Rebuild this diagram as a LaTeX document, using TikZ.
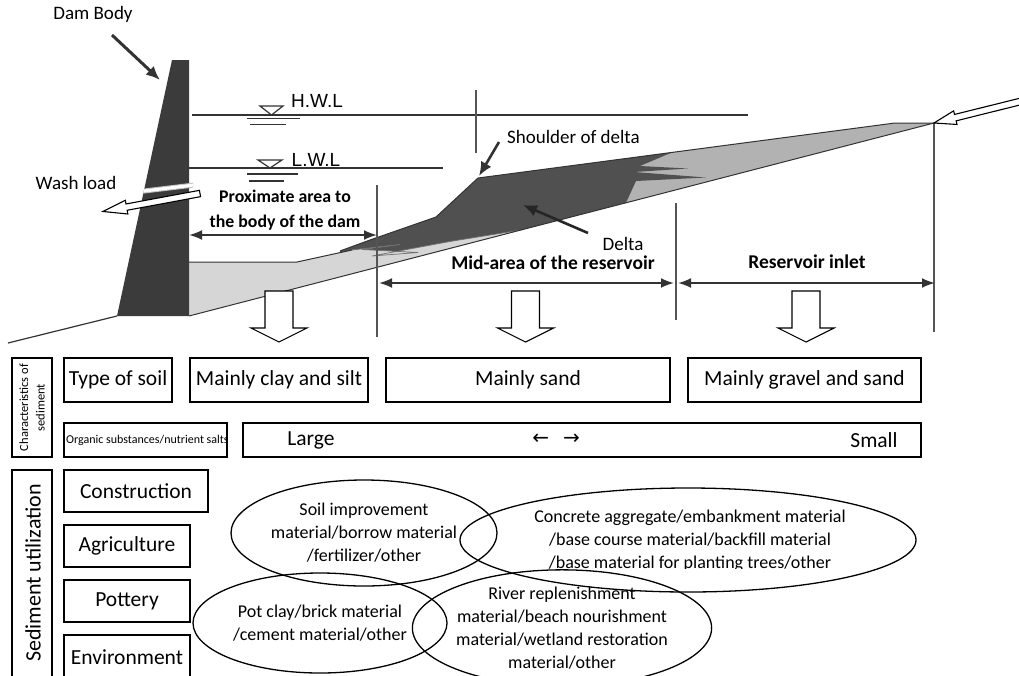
\documentclass[tikz,border=0pt]{standalone}
\usepackage{fontspec}
\setmainfont{Carlito}
\newfontfamily\levelfont{Liberation Sans}
\newfontfamily\arrowfont{DejaVu Sans}
\usetikzlibrary{arrows.meta,shapes.geometric}

\definecolor{damgray}{HTML}{3B3B3B}
\definecolor{deltagray}{HTML}{505050}
\definecolor{topsetgray}{HTML}{B2B2B2}
\definecolor{siltgray}{HTML}{D6D6D6}
\definecolor{inkgray}{HTML}{333333}
\definecolor{rulegray}{HTML}{555555}

% hollow block arrow: tail point, angle, length, shaft half-width, head half-width, head length
\newcommand{\openarrow}[6]{%
  \begin{scope}[shift={(#1)},rotate=#2]
    \draw[openarrowline] (0,-#4) -- ({#3-#6},-#4) -- ({#3-#6},-#5) -- (#3,0)
      -- ({#3-#6},#5) -- ({#3-#6},#4) -- (0,#4) -- cycle;
  \end{scope}}

\begin{document}
\begin{tikzpicture}[x=1pt,y=-1pt,
  smalltext/.style={inner sep=0pt, font=\fontsize{19}{23}\selectfont},
  boldtext/.style={inner sep=0pt, align=center, font=\bfseries\fontsize{19.5}{25}\selectfont},
  leveltext/.style={inner sep=0pt, font=\levelfont\fontsize{19}{22}\selectfont},
  cell/.style={draw, line width=2pt, inner sep=0pt, font=\fontsize{21.5}{26}\selectfont},
  celltext/.style={inner sep=0pt, font=\fontsize{21.5}{26}\selectfont},
  usage/.style={draw, ellipse, line width=1.3pt, inner sep=0pt, align=center, font=\fontsize{18}{23}\selectfont},
  usagetext/.style={inner sep=0pt, align=center, font=\fontsize{18}{23}\selectfont},
  dimline/.style={draw=inkgray, line width=2pt, {Latex[length=13pt,width=10pt]}-{Latex[length=13pt,width=10pt]}},
  pointer/.style={draw=inkgray, line width=2.6pt, -{Latex[length=14pt,width=12pt]}},
  guide/.style={draw=rulegray, line width=1.2pt},
  waterline/.style={draw=inkgray, line width=1.3pt},
  edge/.style={draw=inkgray, line width=1pt, line join=round},
  openarrowline/.style={draw=black, line width=1.1pt, fill=white, line join=miter},
]
\useasboundingbox (0,0) rectangle (1019,675);
\fill[white] (0,0) rectangle (1019,675);
\clip (0,0) rectangle (1019,675);

% ---------- reservoir cross-section ----------
% top-set wedge towards the inlet
\fill[topsetgray] (600,161.9) -- (895,123) -- (934,123) -- (600,209.5) -- cycle;
% delta body, with thin tongues reaching into the top-set deposits
\fill[deltagray] (340,251) -- (370,240) -- (436,217) -- (478,178) -- (672,152.4)
  -- (640,166) -- (688,168.5) -- (634,172) -- (706,177.5) -- (636,181) -- (626,202.7)
  -- (340,276.9) -- cycle;
% fine sediment near the dam
\fill[siltgray] (189,262) -- (297,262) -- (352,250) -- (400,244.5) -- (362,249.5)
  -- (418,252.5) -- (372,256) -- (450,241.5) -- (520,230.2) -- (189,316) -- cycle;
\draw[inkgray!70, line width=0.7pt] (352,250) -- (400,244.5) -- (362,249.5) -- (418,252.5) -- (372,256) -- (450,241.5) -- (520,230.2);
% outlines
\draw[edge] (189,262) -- (297,262) -- (352,250);
\draw[edge] (340,251) -- (370,240) -- (436,217) -- (478,178) -- (895,123) -- (934,123);
\draw[edge] (189,316) -- (934,123);
\draw[edge, line width=1.2pt] (8,343) -- (117,316);

% dam body with outlet
\fill[damgray] (172,60) -- (189,60) -- (189,316) -- (117,316) -- cycle;
\begin{scope}
  \clip (172,60) -- (193,60) -- (193,316) -- (117,316) -- cycle;
  \draw[line width=5pt, white!75!black] (140,191.5) -- (194,185);
  \draw[line width=3pt, white] (140,191.5) -- (194,185);
\end{scope}

% water levels
\draw[waterline] (192,115) -- (748,115);
\draw[waterline] (189,168) -- (443,168);
\draw[inkgray, line width=1.2pt, line join=miter] (260,106) -- (283,106) -- (271.5,115) -- cycle;
\draw[waterline] (247,118.5) -- (300,118.5);
\draw[waterline] (250,124.5) -- (286,124.5);
\draw[inkgray, line width=1.2pt, line join=miter] (258,160) -- (282,160) -- (270,168) -- cycle;
\draw[waterline] (247,174) -- (298,174);
\draw[waterline] (249,181) -- (284,181);

% zone boundaries
\draw[guide] (476,90) -- (476,153);
\draw[guide] (377,185) -- (377,337);
\draw[guide] (676,203) -- (676,320);
\draw[guide] (934,123) -- (934,332);

% zone extents
\coordinate (damface) at (189,235);
\coordinate (proxend) at (377,235);
\coordinate (midstart) at (379,283);
\coordinate (midend) at (674,283);
\coordinate (inletstart) at (678,283);
\coordinate (inletend) at (935,283);
\draw[dimline] (damface) -- (proxend);
\draw[dimline] (midstart) -- (midend);
\draw[dimline] (inletstart) -- (inletend);

% hollow arrows
\openarrow{200,193.5}{190.5}{98.7}{3.2}{7}{24}
\openarrow{1031,98.8}{194}{100}{3.3}{7}{22}
\openarrow{279,291}{-90}{51}{14}{28}{14}
\openarrow{525.5,291}{-90}{51}{14}{28}{14}
\openarrow{806,291}{-90}{51}{14}{28}{14}

% labels and pointers
\node[smalltext] (dambody) at (93,14) {Dam Body};
\coordinate (dambodytail) at (112,35);
\coordinate (dambodytip) at (160,80);
\draw[pointer, line width=3pt] (dambodytail) -- (dambodytip);

\node[smalltext] (washload) at (76,183) {Wash load};
\node[leveltext] (hwl) at (317,101) {H.W.L};
\node[leveltext] (lwl) at (316,160) {L.W.L};

\node[smalltext, anchor=west] (shoulder) at (507,137) {Shoulder of delta};
\coordinate (shouldertail) at (499,142);
\coordinate (shouldertip) at (479,176);
\draw[pointer] (shouldertail) -- (shouldertip);

\node[smalltext] (deltalabel) at (623,244) {Delta};
\coordinate (deltatail) at (588,233);
\coordinate (deltatip) at (523,205);
\draw[pointer, draw=black!85] (deltatail) -- (deltatip);

\node[boldtext, font=\bfseries\fontsize{17.8}{25}\selectfont] (proximate) at (285,210.5) {Proximate area to\\the body of the dam};
\node[boldtext] (midarea) at (553,263) {Mid-area of the reservoir};
\node[boldtext] (inlet) at (807,262) {Reservoir inlet};

% ---------- characteristics of sediment ----------
\node[cell, rotate=90, minimum width=99pt, minimum height=40pt, align=center,
  font=\fontsize{12.5}{16.5}\selectfont] (charbox) at (32,407.5) {Characteristics of\\sediment};
\node[cell, minimum width=108pt, minimum height=44pt] (soiltype) at (118,380) {Type of soil};
\node[cell, minimum width=178pt, minimum height=44pt] (claysilt) at (279,380) {Mainly clay and silt};
\node[cell, minimum width=284pt, minimum height=44pt] (sand) at (528,380) {Mainly sand};
\node[cell, minimum width=233pt, minimum height=44pt] (gravel) at (804.5,380) {Mainly gravel and sand};

\node[cell, minimum width=163pt, minimum height=34pt] (organic) at (145.5,440) {};
\begin{scope}
  \clip (64,423) rectangle (226,457);
  \node[inner sep=0pt, anchor=west, font=\fontsize{12}{14}\selectfont] (organictext) at (66,440) {Organic substances/nutrient salts};
\end{scope}
\node[cell, minimum width=678pt, minimum height=34pt] (amount) at (582,440) {};
\node[celltext] (large) at (311,440) {Large};
\node[inner sep=0pt, font=\arrowfont\fontsize{20}{22}\selectfont] (trend) at (556,439) {←\hspace{14pt}→};
\node[celltext] (small) at (874,440) {Small};

% ---------- sediment utilization ----------
\draw[line width=2pt] (12,690) -- (12,470) -- (52,470) -- (52,690);
\node[inner sep=0pt, rotate=90, font=\fontsize{22}{26}\selectfont] (utilization) at (33,573) {Sediment utilization};
\node[cell, minimum width=144pt, minimum height=42pt] (construction) at (136,491) {Construction};
\node[cell, minimum width=126pt, minimum height=42pt] (agriculture) at (127,546) {Agriculture};
\node[cell, minimum width=126pt, minimum height=42pt] (pottery) at (127,601) {Pottery};
\draw[line width=2pt] (64,690) -- (64,635) -- (190,635) -- (190,690);
\node[celltext] (environment) at (127,657) {Environment};

\node[usage, minimum width=266pt, minimum height=106pt] (soiluse) at (364,533)
  {Soil improvement\\material/borrow material\\/fertilizer/other};
\node[usage, minimum width=254pt, minimum height=100pt] (potuse) at (320,623)
  {Pot clay/brick material\\/cement material/other};
\node[usage, minimum width=456pt, minimum height=104pt] (concreteuse) at (688,540) {};
\begin{scope}
  \clip (440,480) rectangle (930,568);
  \node[usagetext] (concretetext) at (690,541)
    {Concrete aggregate/embankment material\\/base course material/backfill material\\/base material for planting trees/other};
\end{scope}
\node[usage, minimum width=268pt, minimum height=92pt] (riveruse) at (562,628)
  {River replenishment\\material/beach nourishment\\material/wetland restoration\\material/other};
\end{tikzpicture}
\end{document}
